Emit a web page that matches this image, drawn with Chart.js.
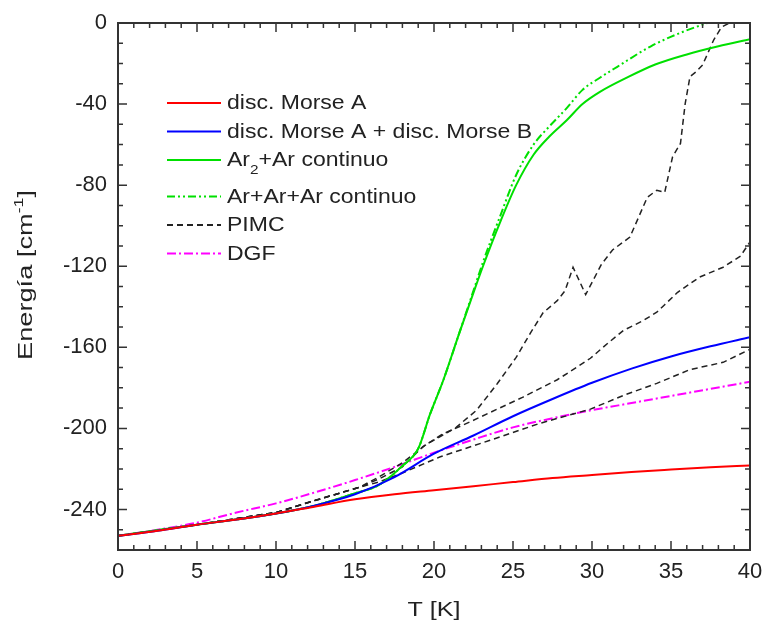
<!DOCTYPE html>
<html>
<head>
<meta charset="utf-8">
<script src="https://cdn.jsdelivr.net/npm/chart.js"></script>
<style>
  html, body { margin: 0; padding: 0; background: #fff; }
  canvas { display: block; }
</style>
</head>
<body>
<canvas id="myChart" width="764" height="628"></canvas>
<script>
// tick labels
const xTicks = [0, 5, 10, 15, 20, 25, 30, 35, 40];
const yTicks = [-240, -200, -160, -120, -80, -40, 0];

// smooth curves share one temperature grid
const tGrid = [0, 2.5, 5, 7.5, 10, 12.5, 15, 17.5, 20, 22.5, 25, 27.5, 30, 32.5, 35, 37.5, 40];
const morseA = [-253, -250.5, -247.5, -245, -242, -238.5, -235, -232.5, -230.5, -228.5, -226.5, -224.5, -223, -221.5, -220.3, -219.2, -218.3];
const morseAB = [-253, -250.5, -247.5, -245, -242, -238, -232.5, -224, -212.5, -203.5, -194, -185.5, -177.5, -170.5, -164.5, -159.5, -155];
const dgf = [-253, -250, -246.5, -241.5, -237, -231.5, -225.5, -219, -212, -205.5, -199.5, -195, -191, -187.5, -184, -180.5, -177];

// Ar2+Ar continuo
const ar2T = [0, 5, 10, 12.5, 15, 16.5, 18, 19, 19.75, 20.6, 21.6, 22.5, 23.1, 24.2, 25.2, 26.3, 27.3, 28.4, 29.4, 30.5, 32.2, 34, 36, 38, 40];
const ar2E = [-253, -247.5, -242, -238, -232, -228, -218.5, -210, -193, -176, -153, -133, -120, -98, -80, -65, -56, -48, -40, -34, -27, -20.5, -15.5, -11.5, -8];

// Ar+Ar+Ar continuo
const ar3T = [0, 5, 10, 12.5, 15, 16.5, 18, 19, 19.75, 20.6, 21.6, 22.5, 23.1, 24.2, 25.2, 26.3, 27.3, 28.4, 29.4, 30.5, 31.6, 33.7, 35.8, 37.3];
const ar3E = [-253, -247.5, -242, -238, -232, -228, -218.5, -210, -193, -176, -153, -132, -118, -95, -75, -60, -51, -42, -33, -27, -21.6, -11.6, -4.2, 0];

// PIMC (three runs)
const pimc1T = [0, 5, 10, 12.5, 15.3, 16.5, 18, 19.5, 21.4, 22.7, 24, 25.2, 26.1, 26.9, 27.8, 28.3, 28.8, 29.6, 30.6, 31.3, 32.4, 33.5, 34.1, 34.6, 35.1, 35.6, 35.9, 36.2, 36.6, 37, 37.7, 38.2, 38.7];
const pimc1E = [-253, -247.5, -241.5, -235.5, -229, -224, -217, -208, -199.5, -191, -178, -165, -153, -143, -137, -132, -120.5, -134, -119, -112, -105.6, -86, -82.5, -83.6, -66, -59.4, -39.7, -26.5, -24, -20.7, -8.4, -2, 0];
const pimc2T = [0, 5, 10, 12.5, 15.3, 16.5, 18, 19.3, 20.5, 22.5, 24, 25.6, 27.8, 29, 29.9, 31, 32, 33.2, 34.1, 34.6, 35.4, 36.8, 38.3, 39.4, 40];
const pimc2E = [-253, -247.5, -241.5, -235.5, -229, -225, -219, -209, -203, -196, -190.5, -184.7, -176, -170, -165.4, -158, -151.6, -147, -142.7, -139, -133, -125.4, -120.5, -115, -108];
const pimc3T = [0, 5, 10, 12.5, 15.3, 16.5, 18, 20.4, 23.5, 26.7, 29.9, 32, 34.1, 36.2, 38.3, 40];
const pimc3E = [-253, -247.5, -241.5, -235.5, -229, -226.5, -222, -214, -206, -197.5, -190.5, -183.7, -177.8, -171, -167.4, -161];

const pts = (xs, ys) => xs.map((x, i) => ({ x: x, y: ys[i] }));

const FONT = '"Liberation Sans", Arial, Helvetica, sans-serif';

// inward ticks on all four sides + frame
const frameTicks = {
    id: 'frameTicks',
    afterDatasetsDraw(chart) {
        const c = chart.ctx;
        const a = chart.chartArea;
        const xs = chart.scales.x, ys = chart.scales.y;
        c.save();
        c.strokeStyle = '#333';
        c.lineWidth = 1.5;
        for (let v = 0; v <= 40; v += 1) {
            const px = xs.getPixelForValue(v);
            const len = v % 5 === 0 ? 9 : 5;
            c.beginPath();
            c.moveTo(px, a.bottom); c.lineTo(px, a.bottom - len);
            c.moveTo(px, a.top); c.lineTo(px, a.top + len);
            c.stroke();
        }
        for (let v = -260; v <= 0; v += 10) {
            const py = ys.getPixelForValue(v);
            const len = v % 40 === 0 ? 9 : 5;
            c.beginPath();
            c.moveTo(a.left, py); c.lineTo(a.left + len, py);
            c.moveTo(a.right, py); c.lineTo(a.right - len, py);
            c.stroke();
        }
        c.lineWidth = 2;
        c.strokeRect(a.left, a.top, a.right - a.left, a.bottom - a.top);
        c.restore();
    }
};

// the original lettering is wide: draw runs of text stretched along their direction
// parts: [text, size, dy]
function wideText(c, parts, x, y, target) {
    let w = 0;
    parts.forEach(p => { c.font = p[1] + 'px ' + FONT; w += c.measureText(p[0]).width; });
    const sx = target / w;
    c.save();
    c.translate(x, y);
    c.scale(sx, 1);
    let cx = 0;
    parts.forEach(p => {
        c.font = p[1] + 'px ' + FONT;
        c.fillText(p[0], cx, p[2]);
        cx += c.measureText(p[0]).width;
    });
    c.restore();
}

const axisTitles = {
    id: 'axisTitles',
    afterDraw(chart) {
        const c = chart.ctx;
        const a = chart.chartArea;
        c.save();
        c.fillStyle = '#222';
        c.textBaseline = 'alphabetic';
        c.textAlign = 'left';
        const cx = (a.left + a.right) / 2;
        wideText(c, [['T [K]', 21, 0]], cx - 26.5, 616, 53);

        c.translate(32, 275);
        c.rotate(-Math.PI / 2);
        wideText(c, [['Energía [cm', 20, 0], ['-1', 13, -9], [']', 20, 0]], -85, 0, 170);
        c.restore();
    }
};

// legend drawn inside the plot area
const innerLegend = {
    id: 'innerLegend',
    afterDraw(chart) {
        const c = chart.ctx;
        c.save();
        c.font = '19.5px ' + FONT;
        const sx = 305 / c.measureText('disc. Morse A + disc. Morse B').width;
        c.textBaseline = 'middle';
        let y = 103;
        chart.data.datasets.forEach(ds => {
            if (ds.inLegend === false) return;
            c.strokeStyle = ds.borderColor;
            c.lineWidth = 2;
            c.setLineDash(ds.borderDash || []);
            c.beginPath();
            c.moveTo(167, y); c.lineTo(221, y);
            c.stroke();
            c.setLineDash([]);
            c.fillStyle = '#222';
            const bits = ds.label.split('₂');
            const parts = [];
            bits.forEach((b, i) => {
                parts.push([b, 19.5, 0]);
                if (i < bits.length - 1) parts.push(['2', 13, 9]);
            });
            let w = 0;
            parts.forEach(p => { c.font = p[1] + 'px ' + FONT; w += c.measureText(p[0]).width; });
            wideText(c, parts, 227, y + 1, w * sx);
            y += bits.length > 1 ? 36.5 : 28.5;
        });
        c.restore();
    }
};

new Chart(document.getElementById('myChart'), {
    type: 'line',
    data: {
        datasets: [{
            label: 'disc. Morse A',
            data: pts(tGrid, morseA),
            borderColor: '#ff0000',
            borderWidth: 2,
            cubicInterpolationMode: 'monotone'
        }, {
            label: 'disc. Morse A + disc. Morse B',
            data: pts(tGrid, morseAB),
            borderColor: '#0000ff',
            borderWidth: 2,
            cubicInterpolationMode: 'monotone'
        }, {
            label: 'Ar₂+Ar continuo',
            data: pts(ar2T, ar2E),
            borderColor: '#00e000',
            borderWidth: 2,
            cubicInterpolationMode: 'monotone'
        }, {
            label: 'Ar+Ar+Ar continuo',
            data: pts(ar3T, ar3E),
            borderColor: '#00e000',
            borderWidth: 2,
            borderDash: [8, 3, 2, 3, 2, 3],
            cubicInterpolationMode: 'monotone'
        }, {
            label: 'PIMC',
            data: pts(pimc1T, pimc1E),
            borderColor: '#222',
            borderWidth: 1.5,
            borderDash: [6, 4]
        }, {
            label: 'PIMC',
            inLegend: false,
            data: pts(pimc2T, pimc2E),
            borderColor: '#222',
            borderWidth: 1.5,
            borderDash: [6, 4]
        }, {
            label: 'PIMC',
            inLegend: false,
            data: pts(pimc3T, pimc3E),
            borderColor: '#222',
            borderWidth: 1.5,
            borderDash: [6, 4]
        }, {
            label: 'DGF',
            data: pts(tGrid, dgf),
            borderColor: '#ff00ff',
            borderWidth: 2,
            borderDash: [9, 3, 2, 3],
            cubicInterpolationMode: 'monotone'
        }]
    },
    options: {
        responsive: false,
        animation: false,
        elements: { point: { radius: 0 } },
        layout: { padding: { top: 23, right: 14, left: 0, bottom: 0 } },
        plugins: {
            legend: { display: false },
            tooltip: { enabled: false }
        },
        scales: {
            x: {
                type: 'linear',
                min: 0,
                max: 40,
                afterBuildTicks: s => { s.ticks = xTicks.map(v => ({ value: v })); },
                afterFit: s => { s.height = 78; s.paddingLeft = 0; s.paddingRight = 0; },
                grid: { display: false, drawTicks: false },
                border: { display: false },
                ticks: { color: '#222', padding: 9, font: { family: FONT, size: 22 } }
            },
            y: {
                min: -260,
                max: 0,
                afterBuildTicks: s => { s.ticks = yTicks.map(v => ({ value: v })); },
                afterFit: s => { s.width = 118; s.paddingTop = 0; s.paddingBottom = 0; },
                grid: { display: false, drawTicks: false },
                border: { display: false },
                ticks: { color: '#222', padding: 11, font: { family: FONT, size: 22 } }
            }
        }
    },
    plugins: [frameTicks, axisTitles, innerLegend]
});
</script>
</body>
</html>
